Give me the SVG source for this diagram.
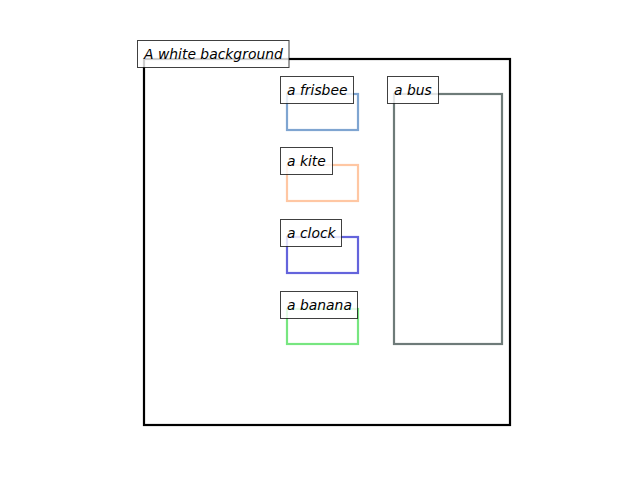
<svg xmlns="http://www.w3.org/2000/svg" width="640" height="480" viewBox="0 0 640 480">
  <style>
    .frame { fill: none; stroke-width: 2.2; }
    .tag rect { fill: #ffffff; fill-opacity: 0.8; stroke: #000000; stroke-opacity: 0.75; stroke-width: 1; }
    .tag text { font-family: "DejaVu Sans", sans-serif; font-style: italic; font-size: 13.9px; fill: #000000; }
  </style>
  <rect width="640" height="480" fill="#ffffff"/>

  <g id="background">
    <rect class="frame" x="144" y="59" width="366" height="366" stroke="#000000"/>
    <g class="tag">
      <rect x="137.5" y="40.5" width="151.5" height="27"/>
      <text x="144" y="58.5">A white background</text>
    </g>
  </g>

  <g id="frisbee">
    <rect class="frame" x="287" y="94" width="71" height="36" stroke="#7fa5d1"/>
    <g class="tag">
      <rect x="280.5" y="76.5" width="73" height="27"/>
      <text x="287" y="94.5">a frisbee</text>
    </g>
  </g>

  <g id="kite">
    <rect class="frame" x="287" y="165" width="71" height="36" stroke="#ffc7a3"/>
    <g class="tag">
      <rect x="280.5" y="147.5" width="52" height="27"/>
      <text x="287" y="165.5">a kite</text>
    </g>
  </g>

  <g id="clock">
    <rect class="frame" x="287" y="237" width="71" height="36" stroke="#6464dc"/>
    <g class="tag">
      <rect x="280.5" y="219.5" width="61" height="27"/>
      <text x="287" y="237.5">a clock</text>
    </g>
  </g>

  <g id="banana">
    <rect class="frame" x="287" y="309" width="71" height="35" stroke="#77e680"/>
    <g class="tag">
      <rect x="280.5" y="291.5" width="77" height="27"/>
      <text x="287" y="309.5">a banana</text>
    </g>
  </g>

  <g id="bus">
    <rect class="frame" x="394" y="94" width="108" height="250" stroke="#6e7b79"/>
    <g class="tag">
      <rect x="387.5" y="76.5" width="51" height="27"/>
      <text x="394" y="94.5">a bus</text>
    </g>
  </g>

  <g id="connectors"></g>
</svg>
